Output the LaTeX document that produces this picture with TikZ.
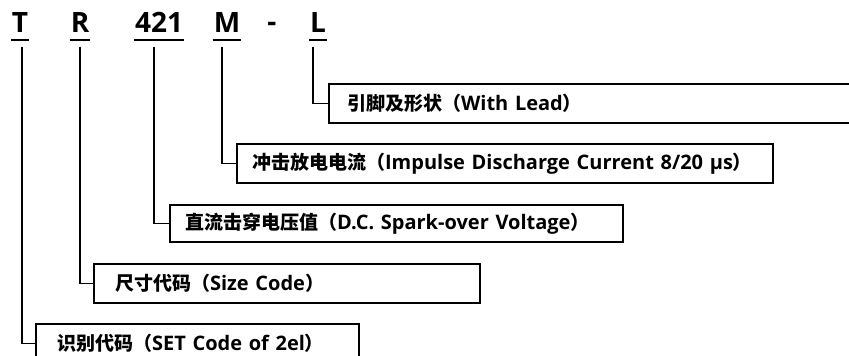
\documentclass[tikz,border=0pt]{standalone}
\usepackage{fontspec}
\setmainfont{Open Sans}
\newfontfamily\cjk{Noto Sans CJK SC}
\newcommand{\zh}[1]{{\cjk\bfseries\fontsize{19}{20}\selectfont #1}}
\usepackage{tikz}
\usetikzlibrary{positioning,calc}
\tikzset{
  code/.style={font=\bfseries\fontsize{28}{28}\selectfont,inner sep=0pt,text depth=7pt},
  uline/.style={line width=2pt},
  conn/.style={line width=1.6pt},
  codebox/.style={draw,line width=2.2pt,anchor=north west,align=left,inner xsep=15pt,
    minimum height=39pt,font=\bfseries\fontsize{20}{21}\selectfont,
    execute at begin node={\hbox to 0pt\bgroup}, execute at end node={\hss\egroup}},
}
\begin{document}
\begin{tikzpicture}[x=1pt,y=-1pt]
  \useasboundingbox (0,0) rectangle (849,356);
  % code letters
  \node[code] (lT) at (20,26) {T};
  \node[code] (lR) at (80,26) {R};
  \node[code] (lV) at (159,26) {421};
  \node[code] (lM) at (227,26) {M};
  \node[code] (lD) at (272,30) {-};
  \node[code] (lL) at (318,26) {L};
  \foreach \n in {lT,lR,lV,lM,lL}
    \draw[uline] ([xshift=-1pt]\n.south west) -- ([xshift=1pt]\n.south east);
  % description boxes
  \node[codebox,text width=502pt,inner xsep=18pt] (bL) at (328,83) {\zh{引脚及形状（}With Lead\zh{）}};
  \node[codebox,text width=506pt] (bM) at (236,143) {\zh{冲击放电电流（}Impulse Discharge Current 8/20 μs\zh{）}};
  \node[codebox,text width=423pt,minimum height=37pt] (bV) at (169,204) {\zh{直流击穿电压值（}D.C. Spark-over Voltage\zh{）}};
  \node[codebox,text width=344pt,inner xsep=21pt] (bR) at (93,263) {\zh{尺寸代码（}Size Code\zh{）}};
  \node[codebox,text width=281pt,inner xsep=21pt] (bT) at (35,323) {\zh{识别代码（}SET Code of 2el\zh{）}};
  % leaders
  \draw[conn] ([xshift=-5pt,yshift=-7pt]lL.south) |- (bL.west);
  \draw[conn] ([xshift=-5pt,yshift=-7pt]lM.south) |- (bM.west);
  \draw[conn] ([xshift=-5pt,yshift=-7pt]lV.south) |- (bV.west);
  \draw[conn] ([yshift=-7pt]lR.south) |- (bR.west);
  \draw[conn] ([xshift=2pt,yshift=-7pt]lT.south) |- (bT.west);
\end{tikzpicture}
\end{document}
